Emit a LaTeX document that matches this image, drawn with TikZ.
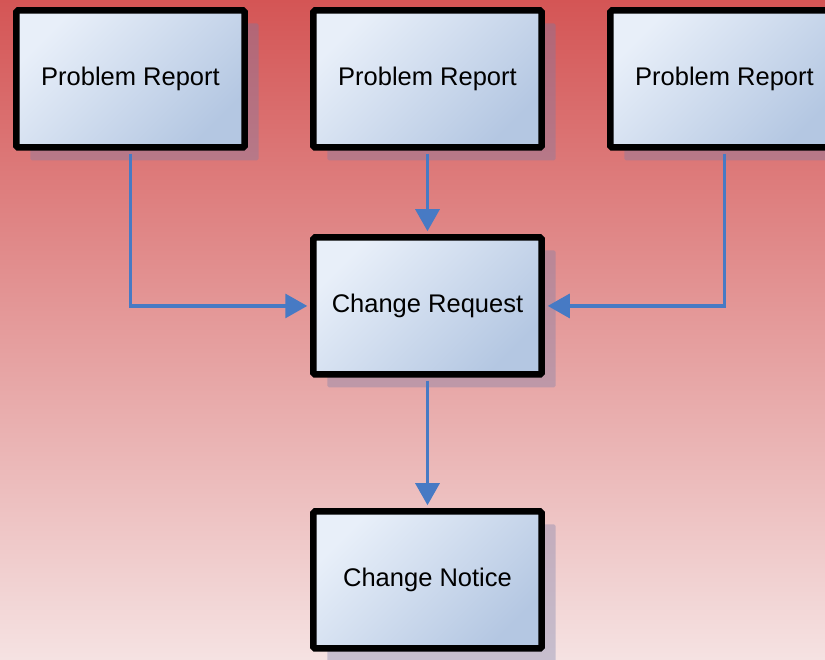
\documentclass[tikz,border=0pt]{standalone}
\usepackage{fontspec}
\setmainfont{Liberation Sans}
\usepackage{tikz}
\usetikzlibrary{matrix,arrows.meta,shadows,positioning}

\definecolor{bgtop}{RGB}{212,85,85}
\definecolor{bgbottom}{RGB}{245,226,226}
\definecolor{boxlight}{RGB}{232,239,249}
\definecolor{boxdark}{RGB}{180,199,226}
\definecolor{flowblue}{RGB}{71,122,196}
\definecolor{shadowc}{RGB}{115,125,170}

\begin{document}
\begin{tikzpicture}[x=1pt,y=-1pt,
		docbox/.style={draw=black, line width=6.5pt, rounded corners=1.5pt,
			minimum width=228pt, minimum height=137pt,
			top color=boxlight, bottom color=boxdark, shading angle=45,
			font=\fontsize{25.5}{30}\selectfont,
			drop shadow={shadow xshift=14pt, shadow yshift=-13pt, fill=shadowc, opacity=.35}},
		flow/.style={flowblue, line width=3.2pt, shorten >=3pt, shorten <=3pt,
			-{Triangle[length=22pt,width=24pt]}}]
		\useasboundingbox (0,0) rectangle (825,659);
		\clip (0,0) rectangle (825,659);
		\fill[top color=bgtop, bottom color=bgbottom] (0,0) rectangle (825,659);
		\matrix (m) [matrix of nodes, nodes={docbox}, inner sep=0pt,
			row sep=83.5pt, column sep=62.5pt, anchor=north] at (427.5,7)
		{
			Problem Report & Problem Report & Problem Report \\
			& Change Request & \\[47pt]
			& Change Notice & \\
		};
		\draw[flow] (m-1-1.south) |- (m-2-2.west);
		\draw[flow] (m-1-2) -- (m-2-2);
		\draw[flow] (m-1-3.south) |- (m-2-2.east);
		\draw[flow] (m-2-2) -- (m-3-2);
	\end{tikzpicture}
\end{document}
